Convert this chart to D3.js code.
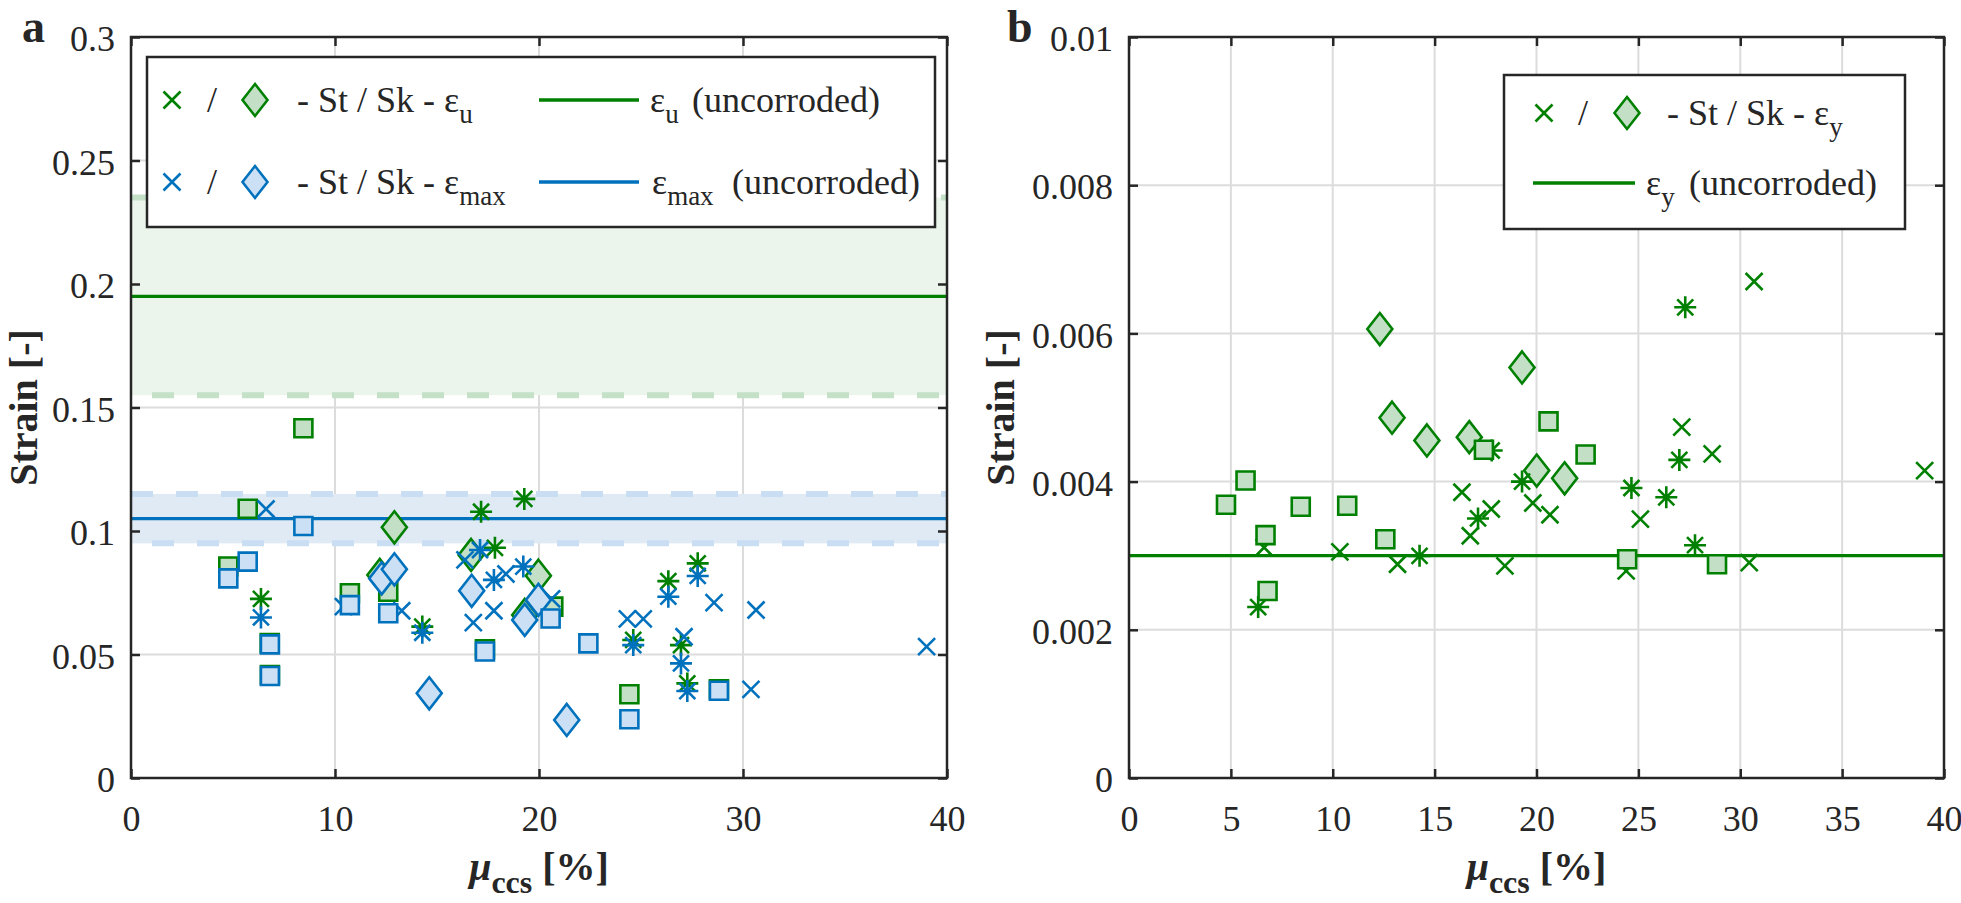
<!DOCTYPE html>
<html><head><meta charset="utf-8">
<script src="https://cdn.jsdelivr.net/npm/d3@7"></script>
<style>
body{margin:0;background:#fff}
svg{display:block}
svg text{font-family:"Liberation Serif","Times New Roman",serif;fill:#262626}
</style>
</head><body>
<svg id="chart" width="1961" height="903"></svg>
<script>
// ---------- tick definitions ----------
const aXTicks = [0, 10, 20, 30, 40];
const aYTicks = [0, 0.05, 0.1, 0.15, 0.2, 0.25, 0.3];
const aYTickLabels = ["0", "0.05", "0.1", "0.15", "0.2", "0.25", "0.3"];
const bXTicks = [0, 5, 10, 15, 20, 25, 30, 35, 40];
const bYTicks = [0, 0.002, 0.004, 0.006, 0.008, 0.01];
const bYTickLabels = ["0", "0.002", "0.004", "0.006", "0.008", "0.01"];

// ---------- reference (uncorroded) values ----------
const epsU_ref = 0.195, epsU_band = [0.155, 0.235];
const epsMax_ref = 0.105, epsMax_band = [0.095, 0.115];
const epsY_ref = 0.003;

// ---------- panel a : [mu_ccs %, strain] ----------
const aBlueX = [[6.62,0.1089],[10.41,0.0694],[13.27,0.0677],[16.37,0.0883],[16.78,0.0629],[17.79,0.0677],[18.38,0.0826],[20.62,0.0725],[24.33,0.0644],[25.11,0.0644],[27.11,0.0572],[28.58,0.0710],[30.64,0.0680],[30.39,0.0359],[39.0,0.0532]];
const aGreenStar = [[6.37,0.0725],[14.28,0.0613],[17.16,0.1078],[17.84,0.0932],[19.28,0.1130],[24.62,0.0559],[26.34,0.0797],[26.96,0.0538],[27.27,0.0383],[27.78,0.0869]];
const aBlueStar = [[6.37,0.0650],[14.28,0.0588],[17.11,0.0923],[17.79,0.0802],[19.23,0.0856],[24.62,0.0538],[26.34,0.0734],[26.96,0.0464],[27.27,0.0352],[27.78,0.0818]];
const aGreenSq = [[4.77,0.0856],[5.72,0.1090],[6.80,0.0546],[6.81,0.0417],[8.45,0.1416],[10.73,0.0748],[12.61,0.0754],[17.35,0.0521],[20.70,0.0694],[24.43,0.0339],[28.82,0.0359]];
const aBlueSq = [[4.77,0.0808],[5.72,0.0876],[6.81,0.0541],[6.81,0.0413],[8.45,0.1020],[10.73,0.0700],[12.61,0.0667],[17.35,0.0512],[20.57,0.0646],[22.42,0.0545],[24.43,0.0238],[28.82,0.0353]];
const aGreenDia = [[12.2,0.0822],[12.91,0.1015],[16.67,0.0903],[19.3,0.0660],[19.97,0.0819]];
const aBlueDia = [[12.29,0.0808],[12.91,0.0845],[14.62,0.0343],[16.70,0.0758],[19.3,0.0640],[19.97,0.0721],[21.36,0.0235]];

// ---------- panel b : [mu_ccs %, strain] ----------
const bGreenX = [[6.63,0.003111],[10.35,0.003052],[13.18,0.002885],[16.34,0.003856],[16.75,0.003269],[17.78,0.00363],[18.45,0.002862],[19.82,0.003711],[20.66,0.003553],[24.40,0.002795],[25.10,0.003494],[27.13,0.004736],[28.62,0.004375],[30.44,0.002907],[30.68,0.0067],[39.05,0.004149]];
const bGreenStar = [[6.34,0.002307],[14.26,0.002998],[17.13,0.003503],[17.8,0.00442],[19.29,0.004],[24.66,0.003914],[26.37,0.003788],[27.01,0.004293],[27.30,0.006352],[27.78,0.003142]];
const bGreenSq = [[4.76,0.003688],[5.72,0.004014],[6.70,0.003278],[6.80,0.002524],[8.43,0.003661],[10.71,0.003675],[12.58,0.003223],[17.42,0.004429],[20.59,0.004813],[22.41,0.004366],[24.45,0.002953],[28.86,0.002885]];
const bGreenDia = [[12.31,0.006059],[12.91,0.004862],[14.62,0.004555],[16.70,0.0046],[19.29,0.00554],[20.01,0.004149],[21.38,0.004045]];

// ---------- styles ----------
const GREEN = "#008000", GREEN_FILL = "#c3e0c6";
const BLUE = "#0072bd", BLUE_FILL = "#cbdff5";
const GREEN_BAND = "#ebf5ec", GREEN_DASH = "#c4e1c8";
const BLUE_BAND = "#e0eaf5", BLUE_DASH = "#c9ddf3";
const AXIS = "#262626", GRID = "#dcdcdc";
const FS = 36;

const svg = d3.select("#chart");

const shapes = {
  x: (r=8.5) => `M${-r},${-r}L${r},${r}M${-r},${r}L${r},${-r}`,
  star: () => { const R=11, d=8; return `M0,${-R}V${R}M${-R},0H${R}M${-d},${-d}L${d},${d}M${-d},${d}L${d},${-d}`; },
  square: () => { const s=9; return `M${-s},${-s}H${s}V${s}H${-s}Z`; },
  diamond: () => { const w=12.5, h=16; return `M0,${-h}L${w},0L0,${h}L${-w},0Z`; }
};

function markers(g, data, x, y, shape, color, fill) {
  g.append("g").selectAll("path").data(data).join("path")
    .attr("transform", d => `translate(${x(d[0])},${y(d[1])})`)
    .attr("d", shapes[shape]())
    .attr("fill", fill || "none")
    .attr("stroke", color)
    .attr("stroke-width", 2.6)
    .attr("stroke-linejoin", "miter");
}

function panel(opts) {
  const {left, right, top, bottom, xTicks, gridX, yTicks, yLabels, yMax, letter, letterX, yTitleX} = opts;
  const x = d3.scaleLinear().domain([0, 40]).range([left, right]);
  const y = d3.scaleLinear().domain([0, yMax]).range([bottom, top]);
  const g = svg.append("g");

  g.append("g").selectAll("line").data(gridX).join("line")
    .attr("x1", d => x(d)).attr("x2", d => x(d)).attr("y1", top).attr("y2", bottom)
    .attr("stroke", GRID).attr("stroke-width", 2);
  g.append("g").selectAll("line").data(yTicks.filter(v => v > 0 && v < yMax)).join("line")
    .attr("x1", left).attr("x2", right).attr("y1", d => y(d)).attr("y2", d => y(d))
    .attr("stroke", GRID).attr("stroke-width", 2);

  const yL = d3.axisLeft(y).tickValues(yTicks).tickFormat((d, i) => yLabels[i]).tickSize(-9).tickPadding(16);
  const yR = d3.axisRight(y).tickValues(yTicks).tickFormat("").tickSize(-9);
  const xB = d3.axisBottom(x).tickValues(xTicks).tickFormat(d3.format("d")).tickSize(-9).tickPadding(27);
  const xT = d3.axisTop(x).tickValues(xTicks).tickFormat("").tickSize(-9);
  const ax = svg.append("g").attr("class", "axes");
  const aL = ax.append("g").attr("transform", `translate(${left},0)`).call(yL);
  const aR = ax.append("g").attr("transform", `translate(${right},0)`).call(yR);
  const aB = ax.append("g").attr("transform", `translate(0,${bottom})`).call(xB);
  const aT = ax.append("g").attr("transform", `translate(0,${top})`).call(xT);
  [aL, aR, aB, aT].forEach(a => {
    a.attr("font-family", null);
    a.select(".domain").remove();
    a.selectAll("line").attr("stroke", AXIS).attr("stroke-width", 2.5);
    a.selectAll("text").attr("font-size", FS).attr("fill", AXIS);
  });
  aL.selectAll("text").attr("dy", "0.38em");
  aB.selectAll("text").attr("dy", "0.71em");

  svg.append("text").attr("x", letterX).attr("y", 42).attr("font-size", 46).attr("font-weight", "bold").text(letter);
  const yt = svg.append("text").attr("transform", `translate(${yTitleX},${(top + bottom) / 2}) rotate(-90)`)
    .attr("text-anchor", "middle").attr("font-size", 40).attr("font-weight", "bold");
  yt.text("Strain [-]");
  const xt = svg.append("text").attr("x", (left + right) / 2).attr("y", 880)
    .attr("text-anchor", "middle").attr("font-size", 40).attr("font-weight", "bold");
  xt.append("tspan").attr("font-style", "italic").text("\u03bc");
  xt.append("tspan").attr("font-size", 32).attr("dy", 13).text("ccs");
  xt.append("tspan").attr("dy", -13).text(" [%]");

  return {x, y, g, box: () => {
    svg.append("rect").attr("x", left).attr("y", top).attr("width", right - left).attr("height", bottom - top)
      .attr("fill", "none").attr("stroke", AXIS).attr("stroke-width", 2.5);
  }};
}

function band(p, lo, hi, fillC, dashC) {
  const {x, y, g} = p;
  g.append("rect").attr("x", x(0)).attr("width", x(40) - x(0))
    .attr("y", y(hi)).attr("height", y(lo) - y(hi)).attr("fill", fillC);
  g.append("line").attr("x1", x(0)).attr("x2", x(40)).attr("y1", y(hi)).attr("y2", y(hi))
    .attr("stroke", dashC).attr("stroke-width", 6).attr("stroke-dasharray", "22 23");
  g.append("line").attr("x1", x(0)).attr("x2", x(40)).attr("y1", y(lo)).attr("y2", y(lo))
    .attr("stroke", dashC).attr("stroke-width", 6).attr("stroke-dasharray", "22 23").attr("stroke-dashoffset", 24);
}
function refLine(p, v, color) {
  p.g.append("line").attr("x1", p.x(0)).attr("x2", p.x(40)).attr("y1", p.y(v)).attr("y2", p.y(v))
    .attr("stroke", color).attr("stroke-width", 3.2);
}

// ================= panel a =================
const A = panel({left: 131, right: 947, top: 37, bottom: 778, xTicks: aXTicks, gridX: [10, 20, 30],
  yTicks: aYTicks, yLabels: aYTickLabels, yMax: 0.3, letter: "a", letterX: 22, yTitleX: 37});
band(A, epsU_band[0], epsU_band[1], GREEN_BAND, GREEN_DASH);
band(A, epsMax_band[0], epsMax_band[1], BLUE_BAND, BLUE_DASH);
refLine(A, epsU_ref, GREEN);
refLine(A, epsMax_ref, BLUE);
markers(A.g, aGreenDia, A.x, A.y, "diamond", GREEN, GREEN_FILL);
markers(A.g, aGreenStar, A.x, A.y, "star", GREEN);
markers(A.g, aGreenSq, A.x, A.y, "square", GREEN, GREEN_FILL);
markers(A.g, aBlueX, A.x, A.y, "x", BLUE);
markers(A.g, aBlueDia, A.x, A.y, "diamond", BLUE, BLUE_FILL);
markers(A.g, aBlueStar, A.x, A.y, "star", BLUE);
markers(A.g, aBlueSq, A.x, A.y, "square", BLUE, BLUE_FILL);
A.box();

// ================= panel b =================
const B = panel({left: 1129, right: 1944, top: 37, bottom: 778, xTicks: bXTicks, gridX: [5, 10, 15, 20, 25, 30, 35],
  yTicks: bYTicks, yLabels: bYTickLabels, yMax: 0.01, letter: "b", letterX: 1007, yTitleX: 1014});
refLine(B, epsY_ref, GREEN);
markers(B.g, bGreenX, B.x, B.y, "x", GREEN);
markers(B.g, bGreenDia, B.x, B.y, "diamond", GREEN, GREEN_FILL);
markers(B.g, bGreenStar, B.x, B.y, "star", GREEN);
markers(B.g, bGreenSq, B.x, B.y, "square", GREEN, GREEN_FILL);
B.box();

// ================= legends =================
function legendBox(x0, y0, x1, y1) {
  svg.append("rect").attr("x", x0).attr("y", y0).attr("width", x1 - x0).attr("height", y1 - y0)
    .attr("fill", "#fff").attr("stroke", AXIS).attr("stroke-width", 2.5);
}
function sym(cx, cy, shape, color, fill) {
  svg.append("path").attr("transform", `translate(${cx},${cy})`).attr("d", shapes[shape]())
    .attr("fill", fill || "none").attr("stroke", color).attr("stroke-width", 2.6);
}
function epsText(x, yb, prefix, sub, suffix, suffixX) {
  const t = svg.append("text").attr("x", x).attr("y", yb).attr("font-size", FS);
  t.append("tspan").text(prefix + "\u03b5");
  t.append("tspan").attr("font-size", 27).attr("dy", 11).text(sub);
  if (suffix) t.append("tspan").attr("x", suffixX).attr("dy", -11).text(suffix);
}
function slash(x, yb) {
  svg.append("text").attr("x", x).attr("y", yb).attr("font-size", FS).attr("text-anchor", "middle").text("/");
}
function legLine(x0, x1, y, color) {
  svg.append("line").attr("x1", x0).attr("x2", x1).attr("y1", y).attr("y2", y).attr("stroke", color).attr("stroke-width", 3.5);
}

// legend a
legendBox(147, 57, 935, 227);
sym(172, 100, "x", GREEN); slash(212, 112); sym(255, 100, "diamond", GREEN, GREEN_FILL);
epsText(297, 112, "- St / Sk - ", "u");
legLine(539, 639, 100, GREEN);
epsText(650, 112, "", "u", "(uncorroded)", 692);
sym(172, 182, "x", BLUE); slash(212, 194); sym(255, 182, "diamond", BLUE, BLUE_FILL);
epsText(297, 194, "- St / Sk - ", "max");
legLine(539, 639, 182, BLUE);
epsText(652, 194, "", "max", "(uncorroded)", 732);

// legend b
legendBox(1504, 75, 1905, 229);
sym(1544, 113, "x", GREEN); slash(1583, 125); sym(1627, 113, "diamond", GREEN, GREEN_FILL);
epsText(1667, 125, "- St / Sk - ", "y");
legLine(1533, 1635, 183, GREEN);
epsText(1646, 195, "", "y", "(uncorroded)", 1689);
</script>
</body></html>
